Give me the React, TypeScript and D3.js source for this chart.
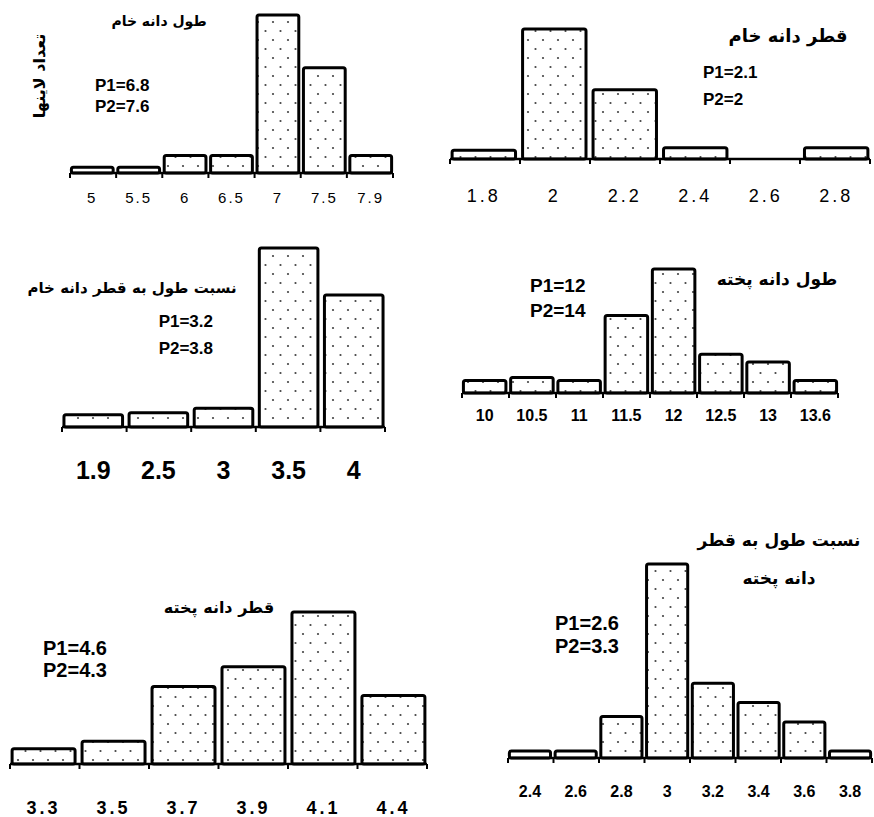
import React from 'react'
import * as d3 from 'd3'

// raw grain length
const p1Cats = ['5', '5.5', '6', '6.5', '7', '7.5', '7.9']
const p1Vals = [1, 1, 3, 3, 27, 18, 3]
// raw grain diameter
const p2Cats = ['1.8', '2', '2.2', '2.4', '2.6', '2.8']
const p2Vals = [1, 15, 8, 1.3, 0, 1.3]
// raw length / diameter ratio
const p3Cats = ['1.9', '2.5', '3', '3.5', '4']
const p3Vals = [1.3, 1.5, 2, 19, 14]
// cooked grain length
const p4Cats = ['10', '10.5', '11', '11.5', '12', '12.5', '13', '13.6']
const p4Vals = [0.8, 1, 0.8, 5, 8, 2.5, 2, 0.8]
// cooked grain diameter
const p5Cats = ['3.3', '3.5', '3.7', '3.9', '4.1', '4.4']
const p5Vals = [1, 1.5, 5.1, 6.4, 10, 4.5]
// cooked length / diameter ratio
const p6Cats = ['2.4', '2.6', '2.8', '3', '3.2', '3.4', '3.6', '3.8']
const p6Vals = [1, 1, 6, 28, 10.8, 8, 5.2, 1]

const titles = [
  ['طول دانه خام'],
  ['قطر دانه خام'],
  ['نسبت طول به قطر دانه خام'],
  ['طول دانه پخته'],
  ['قطر دانه پخته'],
  ['نسبت طول به قطر', 'دانه پخته'],
]
const pLabels = [
  ['P1=6.8', 'P2=7.6'],
  ['P1=2.1', 'P2=2'],
  ['P1=3.2', 'P2=3.8'],
  ['P1=12', 'P2=14'],
  ['P1=4.6', 'P2=4.3'],
  ['P1=2.6', 'P2=3.3'],
]
const yAxisLabel = 'تعداد لاینها'

const ARABIC = '"DejaVu Sans", sans-serif'
const LATIN = '"Liberation Sans", Arial, sans-serif'

// layout of every small chart
const panels = [
  { cats: p1Cats, vals: p1Vals, x0: 70, x1: 393, base: 173, top: 15,
    tickY: 203, tickSize: 15, tickBold: false, tickSpace: 2,
    title: { x: 159, y: 26, size: 14, anchor: 'middle' },
    p: { x: 95, y: 91, dy: 21, size: 17, anchor: 'start' } },
  { cats: p2Cats, vals: p2Vals, x0: 450, x1: 870, base: 159, top: 29,
    tickY: 202, tickSize: 18, tickBold: false, tickSpace: 3,
    title: { x: 788, y: 42, size: 18, anchor: 'middle' },
    p: { x: 703, y: 78, dy: 27, size: 17, anchor: 'start' } },
  { cats: p3Cats, vals: p3Vals, x0: 62, x1: 385, base: 427, top: 248,
    tickY: 479, tickSize: 25, tickBold: true, tickSpace: 0,
    title: { x: 132, y: 293, size: 15, anchor: 'middle' },
    p: { x: 213, y: 327, dy: 27, size: 17, anchor: 'end' } },
  { cats: p4Cats, vals: p4Vals, x0: 462, x1: 838, base: 393, top: 269,
    tickY: 421, tickSize: 16, tickBold: true, tickSpace: 0,
    title: { x: 777, y: 285, size: 17, anchor: 'middle' },
    p: { x: 530, y: 292, dy: 25, size: 19, anchor: 'start' } },
  { cats: p5Cats, vals: p5Vals, x0: 10, x1: 427, base: 764, top: 612,
    tickY: 814, tickSize: 18, tickBold: true, tickSpace: 3,
    title: { x: 219, y: 613, size: 16, anchor: 'middle' },
    p: { x: 43, y: 655, dy: 22, size: 20, anchor: 'start' } },
  { cats: p6Cats, vals: p6Vals, x0: 508, x1: 872, base: 758, top: 564,
    tickY: 797, tickSize: 16, tickBold: true, tickSpace: 0,
    title: { x: 779, y: 546, size: 17, anchor: 'middle', dy: 38 },
    p: { x: 555, y: 630, dy: 23, size: 20, anchor: 'start' } },
]

function Panel({ cfg, idx }: { cfg: any; idx: number }) {
  const x = d3.scaleBand<string>()
    .domain(cfg.cats)
    .range([cfg.x0, cfg.x1])
    .paddingInner(0.1)
    .paddingOuter(0.03)
  const y = d3.scaleLinear()
    .domain([0, d3.max(cfg.vals as number[]) as number])
    .range([cfg.base, cfg.top])
  const step = (cfg.x1 - cfg.x0) / cfg.cats.length
  const ticks = d3.range(cfg.cats.length + 1).map(i => cfg.x0 + i * step)

  return (
    <g>
      {cfg.vals.map((v: number, i: number) => v > 0 && (
        <rect key={i}
          x={x(cfg.cats[i])}
          y={y(v)}
          width={x.bandwidth()}
          height={cfg.base - y(v)}
          rx={2}
          fill="url(#dots)"
          stroke="#000"
          strokeWidth={3} />
      ))}
      <line x1={cfg.x0} x2={cfg.x1} y1={cfg.base} y2={cfg.base} stroke="#000" strokeWidth={2.5} />
      {ticks.map((t, i) => (
        <line key={i} x1={t} x2={t} y1={cfg.base} y2={cfg.base + 5} stroke="#000" strokeWidth={2} />
      ))}
      {cfg.cats.map((c: string) => (
        <text key={c}
          x={(x(c) as number) + x.bandwidth() / 2}
          y={cfg.tickY}
          textAnchor="middle"
          fontFamily={LATIN}
          fontSize={cfg.tickSize}
          fontWeight={cfg.tickBold ? 'bold' : 'normal'}
          letterSpacing={cfg.tickSpace}>{c}</text>
      ))}
      {titles[idx].map((t, j) => (
        <text key={t}
          x={cfg.title.x}
          y={cfg.title.y + j * (cfg.title.dy || 0)}
          textAnchor={cfg.title.anchor}
          direction="rtl"
          fontFamily={ARABIC}
          fontWeight="bold"
          fontSize={cfg.title.size}>{t}</text>
      ))}
      {pLabels[idx].map((t, j) => (
        <text key={t}
          x={cfg.p.x}
          y={cfg.p.y + j * cfg.p.dy}
          textAnchor={cfg.p.anchor}
          fontFamily={LATIN}
          fontWeight="bold"
          fontSize={cfg.p.size}>{t}</text>
      ))}
    </g>
  )
}

export default function App() {
  return (
    <svg width={874} height={817} style={{ position: 'absolute', left: 0, top: 0, background: '#fff' }}>
      <defs>
        <pattern id="dots" width={15} height={18} patternUnits="userSpaceOnUse">
          <rect width={15} height={18} fill="#fff" />
          <circle cx={3} cy={4} r={1.1} fill="#444" />
          <circle cx={10.5} cy={13} r={1.1} fill="#444" />
        </pattern>
      </defs>
      {panels.map((p, i) => <Panel key={i} cfg={p} idx={i} />)}
      <text
        transform="translate(45,76) rotate(-90)"
        textAnchor="middle"
        direction="rtl"
        fontFamily={ARABIC}
        fontWeight="bold"
        fontSize={16}>{yAxisLabel}</text>
    </svg>
  )
}
